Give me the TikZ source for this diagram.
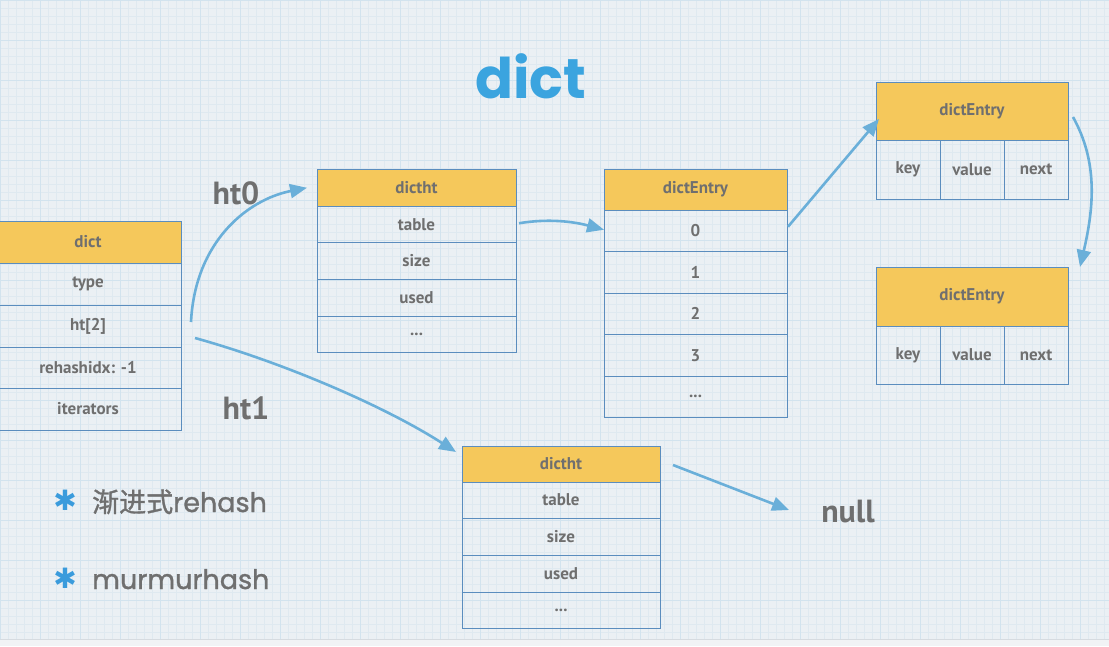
\documentclass[tikz,border=0pt]{standalone}
\usepackage{fontspec}
\setmainfont{PT Sans}
\newfontfamily\titlefont{Poppins}
\newfontfamily\bulletfont{Poppins}[FakeBold=1.2]
\newfontfamily\cjkfont{Noto Sans CJK SC}[FakeBold=1.2]
\newfontfamily\symfont{DejaVu Sans}
\usetikzlibrary{arrows.meta}
\definecolor{bgc}{HTML}{EBF0F4}
\definecolor{minorc}{HTML}{DFE9F0}
\definecolor{majorc}{HTML}{D2E3EE}
\definecolor{hdrfill}{HTML}{F5C85B}
\definecolor{boxline}{HTML}{5B8DBE}
\definecolor{arrc}{HTML}{6AAFD9}
\definecolor{txtgray}{HTML}{6F6F6F}
\definecolor{titleblue}{HTML}{3BA4DF}
\definecolor{starblue}{HTML}{3A9BDC}
\definecolor{stripc}{HTML}{F1F3F5}
\definecolor{stripline}{HTML}{D6DBE0}
\tikzset{
  cell/.style={draw=boxline, line width=0.9pt, inner sep=0pt, outer sep=0pt,
    anchor=north west, text=txtgray, font=\bfseries\fontsize{17}{18}\selectfont},
  hdr/.style={cell, fill=hdrfill},
  arr/.style={draw=arrc, line width=2.6pt, -{Triangle[length=17pt,width=14pt]}},
  biglabel/.style={text=txtgray, font=\bfseries\fontsize{32}{34}\selectfont, inner sep=0pt},
  bullet/.style={text=txtgray, font=\bulletfont\fontsize{27}{30}\selectfont, inner sep=0pt, anchor=base west},
  star/.style={text=starblue, font=\symfont\bfseries\fontsize{28}{28}\selectfont, inner sep=0pt}
}
\begin{document}
\begin{tikzpicture}[x=1pt,y=-1pt]
\useasboundingbox (0,0) rectangle (1109,646);
\clip (0,0) rectangle (1109,646);
% background
\fill[bgc] (0,0) rectangle (1109,646);
\draw[minorc, line width=0.5pt] (0,0) grid[step=8pt] (1109,646);
\draw[majorc, line width=1pt] (0,0) grid[step=40pt] (1109,646);
\fill[stripc] (0,639) rectangle (1109,646);
\draw[stripline, line width=1pt] (0,639) -- (1109,639);

% title
\node[text=titleblue, font=\titlefont\bfseries\fontsize{56}{56}\selectfont, anchor=base, inner sep=0pt] (title) at (531,98) {dict};

% dict box
\node[hdr, minimum width=186pt, minimum height=42pt] (dH) at (-5,221) {dict};
\node[cell, minimum width=186pt, minimum height=42pt] (dType) at (-5,263) {type};
\node[cell, minimum width=186pt, minimum height=42pt] (dHt) at (-5,305) {ht[2]};
\node[cell, minimum width=186pt, minimum height=41pt] (dRe) at (-5,347) {rehashidx: -1};
\node[cell, minimum width=186pt, minimum height=42pt] (dIt) at (-5,388) {iterators};

% dictht top
\begin{scope}[every node/.append style={font=\bfseries\fontsize{16}{17}\selectfont}]
\node[hdr, minimum width=199pt, minimum height=36.5pt] (tH) at (317,169.5) {dictht};
\node[cell, minimum width=199pt, minimum height=36.5pt] (tTable) at (317,206) {table};
\node[cell, minimum width=199pt, minimum height=37pt] (tSize) at (317,242.5) {size};
\node[cell, minimum width=199pt, minimum height=36.5pt] (tUsed) at (317,279.5) {used};
\node[cell, minimum width=199pt, minimum height=36pt] (tDots) at (317,316) {...};
% dictht bottom
\node[hdr, minimum width=198pt, minimum height=36pt] (uH) at (462,446) {dictht};
\node[cell, minimum width=198pt, minimum height=36pt] (uTable) at (462,482) {table};
\node[cell, minimum width=198pt, minimum height=37pt] (uSize) at (462,518) {size};
\node[cell, minimum width=198pt, minimum height=37pt] (uUsed) at (462,555) {used};
\node[cell, minimum width=198pt, minimum height=36pt] (uDots) at (462,592) {...};
\end{scope}

% dictEntry column
\begin{scope}[every node/.append style={font=\bfseries\fontsize{18}{19}\selectfont}]
\node[hdr, minimum width=183pt, minimum height=41pt] (eH) at (604,169) {dictEntry};
\node[cell, minimum width=183pt, minimum height=41.5pt] (e0) at (604,210) {0};
\node[cell, minimum width=183pt, minimum height=41.5pt] (e1) at (604,251.5) {1};
\node[cell, minimum width=183pt, minimum height=41.5pt] (e2) at (604,293) {2};
\node[cell, minimum width=183pt, minimum height=41.5pt] (e3) at (604,334.5) {3};
\node[cell, minimum width=183pt, minimum height=41.5pt] (e4) at (604,376) {...};

% dictEntry top right
\node[hdr, minimum width=192pt, minimum height=58pt] (aH) at (876,82) {dictEntry};
\node[cell, minimum width=64pt, minimum height=59pt] (aKey) at (876,140) {key};
\node[cell, minimum width=64pt, minimum height=59pt] (aVal) at (940,140) {value};
\node[cell, minimum width=64pt, minimum height=59pt] (aNext) at (1004,140) {next};

% dictEntry bottom right
\node[hdr, minimum width=192pt, minimum height=59pt] (bH) at (876,267) {dictEntry};
\node[cell, minimum width=64pt, minimum height=58pt] (bKey) at (876,326) {key};
\node[cell, minimum width=64pt, minimum height=58pt] (bVal) at (940,326) {value};
\node[cell, minimum width=64pt, minimum height=58pt] (bNext) at (1004,326) {next};
\end{scope}

% labels
\node[biglabel] (ht0) at (236,193) {ht0};
\node[biglabel] (ht1) at (246,408) {ht1};
\node[biglabel] (null) at (848,512) {null};

% bullets
\node[star] (s1) at (65,500) {✱};
\node[bullet] (b1) at (92,512) {{\cjkfont 渐进式}rehash};
\node[star] (s2) at (65,578) {✱};
\node[bullet] (b2) at (92,589) {murmurhash};

% arrows
\draw[arr] ([shift={(10,-4)}]dHt.east) .. controls +(4,-80) and +(-60,12) .. ([shift={(-10,0)}]tH.west);
\draw[arr] ([shift={(14,12)}]dHt.east) .. controls +(90,25) and +(-70,-45) .. ([shift={(-6,6)}]uH.north west);
\draw[arr] ([shift={(3,-1)}]tTable.east) .. controls +(30,-5) and +(-30,-8) .. ([shift={(0,-1)}]e0.west);
\draw[arr] ([shift={(1,-4)}]e0.east) -- ([shift={(3,8)}]aH.west);
\draw[arr] ([shift={(5,6)}]aH.east) .. controls +(25,45) and +(14,-60) .. ([shift={(12,0)}]bH.north east);
\draw[arr] ([shift={(13,1)}]uH.east) -- ([shift={(-32,-2)}]null.west);
\end{tikzpicture}
\end{document}
